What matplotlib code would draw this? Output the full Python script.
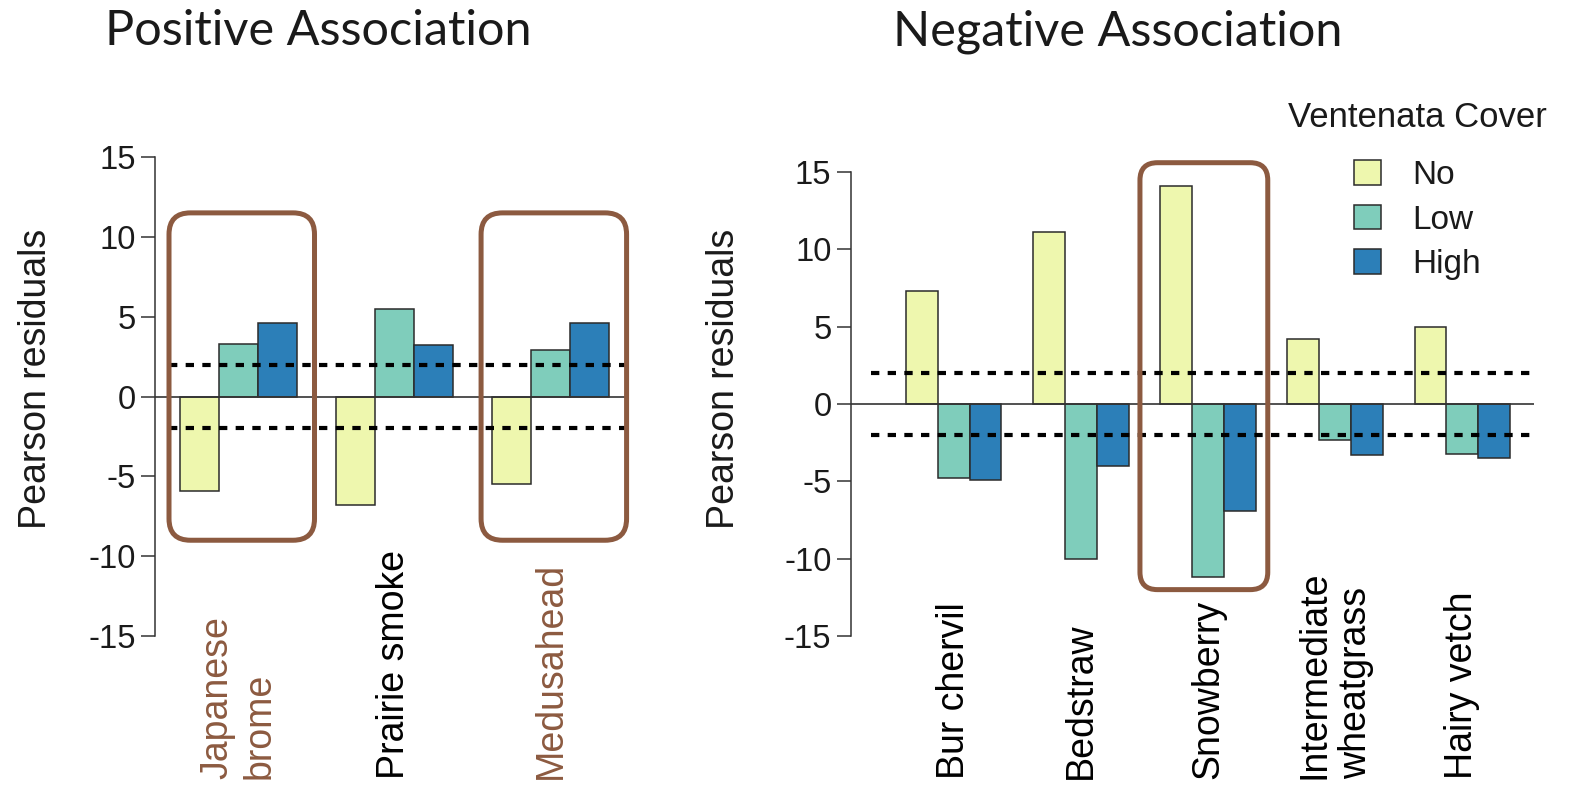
import matplotlib
matplotlib.use('Agg')
import matplotlib.pyplot as plt
from matplotlib.patches import FancyBboxPatch, Patch
from matplotlib.transforms import blended_transform_factory

plt.rcParams['font.family'] = 'Liberation Sans'
plt.rcParams['axes.unicode_minus'] = False

# Data
levels = ['No', 'Low', 'High']
level_colors = ['#eef7ae', '#7fcdbb', '#2c7fb8']

pos_species = ['Japanese\nbrome', 'Prairie smoke', 'Medusahead']
pos_no = [-5.9, -6.8, -5.5]
pos_low = [3.3, 5.5, 2.9]
pos_high = [4.6, 3.2, 4.6]
pos_boxed = [True, False, True]

neg_species = ['Bur chervil', 'Bedstraw', 'Snowberry', 'Intermediate\nwheatgrass', 'Hairy vetch']
neg_no = [7.3, 11.1, 14.1, 4.2, 5.0]
neg_low = [-4.8, -10.0, -11.2, -2.3, -3.2]
neg_high = [-4.9, -4.0, -6.9, -3.3, -3.5]
neg_boxed = [False, False, True, False, False]

threshold = 2
brown = '#8c5a40'

fig = plt.figure(figsize=(15.7, 7.88), dpi=100)
fig.patch.set_facecolor('white')

ax_pos = fig.add_axes([0.0987, 0.1685, 0.2994, 0.6566])
ax_neg = fig.add_axes([0.542, 0.1693, 0.435, 0.636])


def draw_panel(ax, species, no, low, high, xlim, label_colors, ylabel_x, ylabel_y):
    series = [no, low, high]
    for g in range(len(species)):
        start = 1 + 4 * g
        for j, vals in enumerate(series):
            ax.bar(start + j, vals[g], width=1, align='edge', color=level_colors[j],
                   edgecolor='#2b2b2b', linewidth=1.1, zorder=3)

    ax.set_xlim(*xlim)
    ax.set_ylim(-16.2, 16.2)

    ax.axhline(0, color='#333333', linewidth=1.2, zorder=4)
    for yv in (threshold, -threshold):
        ax.axhline(yv, xmin=0.03, xmax=1, color='black', linewidth=3,
                   linestyle=(0, (2, 2)), dash_capstyle='butt', zorder=5)

    for s in ['top', 'right', 'bottom']:
        ax.spines[s].set_visible(False)
    ax.spines['left'].set_bounds(-15, 15)
    ax.spines['left'].set_color('#333333')
    ax.spines['left'].set_linewidth(1.1)
    ax.set_yticks([-15, -10, -5, 0, 5, 10, 15])
    ax.tick_params(axis='y', length=10, width=1.1, color='#333333', pad=4,
                   labelsize=23.5, labelcolor='#1a1a1a')
    ax.set_xticks([])
    ax.set_ylabel('Pearson residuals', fontsize=27, color='#1a1a1a')
    ax.yaxis.set_label_coords(ylabel_x, ylabel_y)

    # category labels, rotated, starting at the bottom of the figure
    trans = blended_transform_factory(ax.transData, fig.transFigure)
    for g, name in enumerate(species):
        cx = 1 + 4 * g + 1.5
        ax.text(cx, 0.012, name, transform=trans, rotation=90, rotation_mode='anchor',
                ha='left', va='center', multialignment='left', fontsize=27,
                color=label_colors[g], clip_on=False)

    bb = ax.get_window_extent()
    px_x = bb.width / (xlim[1] - xlim[0])
    px_y = bb.height / 32.4
    return px_x / px_y


asp_pos = draw_panel(ax_pos, pos_species, pos_no, pos_low, pos_high,
                     (0.36, 12.41), [brown if b else 'black' for b in pos_boxed],
                     -0.215, 0.535)
asp_neg = draw_panel(ax_neg, neg_species, neg_no, neg_low, neg_high,
                     (-0.73, 20.75), ['black'] * len(neg_species),
                     -0.16, 0.55)


def add_box(ax, x0, x1, y0, y1, aspect):
    r = 0.55
    box = FancyBboxPatch((x0, y0), x1 - x0, y1 - y0,
                         boxstyle=f'round,pad=0,rounding_size={r}',
                         mutation_aspect=aspect, facecolor='none',
                         edgecolor=brown, linewidth=3.6, zorder=6, clip_on=False)
    ax.add_patch(box)


for g, b in enumerate(pos_boxed):
    if b:
        add_box(ax_pos, 1 + 4 * g - 0.28, 1 + 4 * g + 3.45, -9.0, 11.5, asp_pos)
for g, b in enumerate(neg_boxed):
    if b:
        add_box(ax_neg, 1 + 4 * g - 0.64, 1 + 4 * g + 3.38, -12.0, 15.6, asp_neg)

# titles
fig.text(0.203, 1 - 45 / 788, 'Positive Association', ha='center', va='baseline',
         fontsize=35, family='Lato', color='#1a1a1a')
fig.text(0.7118, 1 - 45 / 788, 'Negative Association', ha='center', va='baseline',
         fontsize=35, family='Lato', color='#1a1a1a')

# legend
handles = [Patch(facecolor=c, edgecolor='#2b2b2b', linewidth=1.1) for c in level_colors]
leg = fig.legend(handles, levels, title='Ventenata Cover', loc='upper center',
                 bbox_to_anchor=(0.903, 0.91), frameon=False, fontsize=24,
                 title_fontsize=25, handlelength=0.8, handleheight=0.75,
                 labelspacing=0.4, handletextpad=0.95)
leg._legend_box.sep = 19
leg.get_title().set_color('#1a1a1a')
for t in leg.get_texts():
    t.set_color('#1a1a1a')

fig.savefig('out.png', dpi=100, facecolor='white')
